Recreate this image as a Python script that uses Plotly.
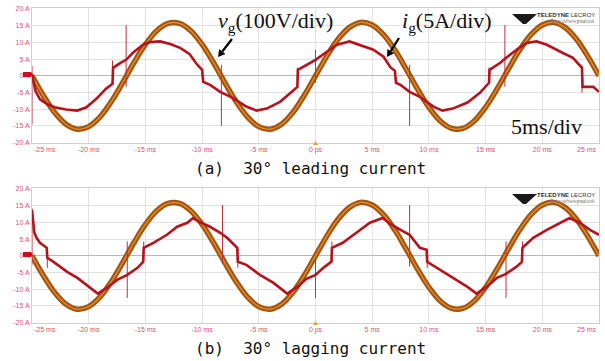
import math
import plotly.graph_objects as go

W, H = 605, 361

# ---------------- data ----------------
# time axis for grid voltage samples (ms)
t_v = list(range(-25, 26))
# grid voltage v_g shown in A-scale divisions (same in both panels)
v_g = [0.0, -5.9, -11.0, -14.5, -16.0, -15.2, -12.3, -7.7, -2.0, 4.0,
       9.4, 13.5, 15.7, 15.7, 13.5, 9.4, 4.0, -2.0, -7.7, -12.3,
       -15.2, -16.0, -14.5, -11.0, -5.9, 0.0, 5.9, 11.0, 14.5, 16.0,
       15.2, 12.3, 7.7, 2.0, -4.0, -9.4, -13.5, -15.7, -15.7, -13.5,
       -9.4, -4.0, 2.0, 7.7, 12.3, 15.2, 16.0, 14.5, 11.0, 5.9, 0.0]

# (a) 30 deg leading current
t_a = [-25.0, -24.7, -24.3, -23.6, -23.0, -22.0, -21.0, -20.2, -19.3, -18.5,
       -17.9, -17.85, -17.2, -16.7, -16.1, -15.2, -14.6, -13.7, -12.8, -11.9,
       -11.1, -10.5, -10.0, -9.9, -9.3, -8.4, -7.3, -6.1, -5.2, -4.3,
       -3.1, -2.3, -1.6, -1.55, -0.8, 0.0, 1.0, 1.9, 3.0, 3.9,
       5.1, 6.0, 6.6, 7.0, 7.1, 7.5, 8.3, 9.2, 10.4, 11.2,
       12.1, 13.4, 14.5, 15.3, 15.35, 16.3, 16.7, 17.8, 18.6, 19.5,
       20.4, 21.6, 22.7, 23.5, 23.55, 24.5, 25.0]
i_a = [0.5, -4.5, -7.0, -8.6, -9.4, -10.1, -10.4, -9.4, -6.8, -3.9,
       -2.4, 2.4, 3.9, 4.8, 6.9, 9.3, 10.1, 10.3, 9.5, 8.3,
       6.5, 3.6, 1.8, -1.8, -2.7, -4.8, -6.6, -9.2, -10.4, -9.8,
       -7.7, -5.4, -3.3, 1.8, 3.3, 4.8, 7.2, 9.3, 10.3, 9.2,
       7.8, 5.7, 2.6, 1.5, -2.1, -2.7, -4.8, -6.3, -9.2, -10.4,
       -9.8, -8.0, -5.1, -2.1, 1.8, 3.9, 5.1, 8.0, 9.8, 10.3,
       9.3, 7.2, 5.4, 2.4, -3.3, -3.3, -4.8]
spike_t_a = [-25.0, -17.9, -16.7, -8.3, -1.6, 0.0, 8.3, 15.3, 16.7, 23.5]
spike_hi_a = [3.0, 4.6, 15.2, 3.3, 2.5, 7.8, 3.3, 2.5, 15.2, 3.0]
spike_lo_a = [-14.6, -2.6, -3.3, -15.0, -3.4, -2.1, -15.0, -2.4, -3.3, -5.0]

# (b) 30 deg lagging current
t_b = [-25.0, -24.8, -24.6, -24.3, -23.7, -23.65, -23.1, -21.9, -21.0, -19.9,
       -19.2, -18.4, -17.5, -16.6, -15.7, -15.2, -15.15, -14.3, -13.1, -12.2,
       -11.3, -10.8, -10.2, -9.3, -8.4, -7.8, -6.9, -6.85, -6.1, -4.9,
       -3.7, -2.5, -1.6, -0.8, 0.0, 0.8, 1.4, 1.45, 2.4, 3.6,
       4.8, 5.9, 6.7, 7.5, 8.3, 9.2, 9.8, 9.85, 11.0, 12.1,
       13.4, 14.2, 15.1, 16.0, 16.8, 17.7, 18.2, 18.25, 19.2, 20.4,
       21.6, 22.4, 23.3, 24.2, 25.0]
i_b = [13.7, 7.0, 5.4, 3.9, 2.4, -0.6, -1.8, -4.8, -6.6, -9.6,
       -11.3, -9.6, -7.2, -5.7, -3.6, -1.8, 2.4, 3.9, 6.3, 8.7,
       9.9, 11.3, 10.1, 8.7, 6.9, 5.4, 2.4, -1.8, -2.7, -5.7,
       -8.1, -11.3, -9.3, -6.9, -5.7, -3.3, -1.8, 2.4, 3.9, 6.9,
       9.9, 11.3, 9.3, 7.8, 6.3, 2.4, 1.8, -1.8, -4.2, -6.6,
       -9.3, -11.3, -9.3, -6.6, -5.4, -3.3, -1.8, 2.4, 5.4, 7.8,
       9.9, 11.3, 9.9, 7.8, 6.3]
spike_t_b = [-25.0, -23.65, -16.6, -15.15, -8.2, -6.85, 0.0, 1.45, 8.3, 9.85, 16.8, 18.25]
spike_hi_b = [14.3, 2.4, 4.3, 4.3, 15.2, 2.4, -0.7, 4.3, 15.2, 1.8, 4.3, 4.3]
spike_lo_b = [-2.7, -3.6, -12.6, -1.8, -2.1, -3.6, -12.6, -1.8, -3.2, -3.6, -12.6, -1.8]

x_ticks = [-25, -20, -15, -10, -5, 0, 5, 10, 15, 20, 25]
x_tick_text = ["-25 ms", "-20 ms", "-15 ms", "-10 ms", "-5 ms", "0 ps",
               "5 ms", "10 ms", "15 ms", "20 ms", "25 ms"]
y_ticks = [20, 15, 10, 5, 0, -5, -10, -15, -20]
y_tick_text = ["20 A", "15 A", "10 A", "5 A", "0 A", "-5 A", "-10 A", "-15 A", "-20 A"]

captions = ["(a)\u00a0\u00a030° leading current", "(b)\u00a0\u00a030° lagging current"]

# ---------------- styles ----------------
V_OUT = "#a5540f"
V_IN = "#dc8c2c"
I_COL = "#b3141d"
SPK_COL = "#c0303f"
LBL_COL = "#e0506e"
GRID = "#e2e2e2"
TICK_FONT = dict(family="Liberation Sans", size=7, color=LBL_COL)


def px(x, y):
    return x / W, 1 - y / H


def poly_path(pts):
    pp = [px(a, b) for a, b in pts]
    return "M " + " L ".join(f"{a:.4f},{b:.4f}" for a, b in pp) + " Z"


def spikes(ts, hi, lo):
    xs, ys = [], []
    for t, h, l in zip(ts, hi, lo):
        xs += [t, t, None]
        ys += [h, l, None]
    return xs, ys


fig = go.Figure()

panels = [("x", "y", t_a, i_a, spike_t_a, spike_hi_a, spike_lo_a),
          ("x2", "y2", t_b, i_b, spike_t_b, spike_hi_b, spike_lo_b)]
for xa, ya, tt, ii, st, sh, sl in panels:
    fig.add_trace(go.Scatter(x=t_v, y=v_g, xaxis=xa, yaxis=ya, mode="lines",
                             line=dict(color=V_OUT, width=5.5, shape="spline", smoothing=1.0),
                             hoverinfo="skip", showlegend=False))
    fig.add_trace(go.Scatter(x=t_v, y=v_g, xaxis=xa, yaxis=ya, mode="lines",
                             line=dict(color=V_IN, width=1.4, shape="spline", smoothing=1.0),
                             hoverinfo="skip", showlegend=False))
    sx, sy = spikes(st, sh, sl)
    fig.add_trace(go.Scatter(x=sx, y=sy, xaxis=xa, yaxis=ya, mode="lines",
                             line=dict(color=SPK_COL, width=1),
                             hoverinfo="skip", showlegend=False))
    fig.add_trace(go.Scatter(x=tt, y=ii, xaxis=xa, yaxis=ya, mode="lines",
                             line=dict(color=I_COL, width=2.6),
                             hoverinfo="skip", showlegend=False))

xdom = [32 / W, 599 / W]
ydom_top = [1 - 143 / H, 1 - 8 / H]
ydom_bot = [1 - 323 / H, 1 - 188 / H]

# the edge ticks (+-25 ms) coincide with the frame; their labels are placed inside below
xcommon = dict(range=[-25, 25], tickvals=x_ticks[1:-1], ticktext=x_tick_text[1:-1],
               tickfont=TICK_FONT,
               showgrid=True, gridcolor=GRID, gridwidth=1, zeroline=False,
               showline=True, linecolor="#cfcfcf", linewidth=1, mirror=True,
               ticks="", automargin=False, fixedrange=True)
ycommon = dict(range=[-20.1, 20.3], tickvals=y_ticks, ticktext=y_tick_text,
               tickfont=TICK_FONT,
               showgrid=True, gridcolor=GRID, gridwidth=1,
               zeroline=True, zerolinecolor="#b8b8b8", zerolinewidth=1,
               showline=True, linecolor="#cfcfcf", linewidth=1, mirror=True,
               ticks="", automargin=False, fixedrange=True)

fig.update_layout(
    width=W, height=H, margin=dict(l=0, r=0, t=0, b=0),
    paper_bgcolor="white", plot_bgcolor="white", showlegend=False,
    xaxis=dict(domain=xdom, anchor="y", **xcommon),
    yaxis=dict(domain=ydom_top, anchor="x", **ycommon),
    xaxis2=dict(domain=xdom, anchor="y2", **xcommon),
    yaxis2=dict(domain=ydom_bot, anchor="x2", **ycommon),
)

ann = []
# edge tick labels kept inside the plot width
for xr, yr in (("x", "y"), ("x2", "y2")):
    ann.append(dict(xref=xr, yref=f"{yr} domain", x=x_ticks[0], y=0, text=x_tick_text[0],
                    showarrow=False, xanchor="left", yanchor="top", yshift=-1,
                    font=TICK_FONT))
    ann.append(dict(xref=xr, yref=f"{yr} domain", x=x_ticks[-1], y=0, text=x_tick_text[-1],
                    showarrow=False, xanchor="right", yanchor="top", yshift=-1,
                    font=TICK_FONT))

# captions
for k, cap in enumerate(captions):
    cx, cy = px(310, 168 + 180 * k)
    ann.append(dict(xref="paper", yref="paper", x=cx, y=cy, text=cap, showarrow=False,
                    xanchor="center", yanchor="middle",
                    font=dict(family="DejaVu Sans Mono", size=16, color="#111111")))

# labels in panel (a)
serif = dict(family="Liberation Serif", size=22, color="#111111")
x0, y0 = px(216, 22)
ann.append(dict(xref="paper", yref="paper", x=x0, y=y0, text="<i>v</i><sub>g</sub>(100V/div)",
                showarrow=False, xanchor="left", yanchor="middle", font=serif))
x0, y0 = px(400, 22)
ann.append(dict(xref="paper", yref="paper", x=x0, y=y0, text="<i>i</i><sub>g</sub>(5A/div)",
                showarrow=False, xanchor="left", yanchor="middle", font=serif))
x0, y0 = px(509, 126)
ann.append(dict(xref="paper", yref="paper", x=x0, y=y0, text="5ms/div",
                showarrow=False, xanchor="left", yanchor="middle", font=serif))

shapes = []


def arrow(tail, tip, head_len=7.0, half_w=4.0):
    dx, dy = tip[0] - tail[0], tip[1] - tail[1]
    L = math.hypot(dx, dy)
    ux, uy = dx / L, dy / L
    bx, by = tip[0] - head_len * ux, tip[1] - head_len * uy
    nx, ny = -uy, ux
    (x1, y1), (x2, y2) = px(*tail), px(bx, by)
    shapes.append(dict(type="line", xref="paper", yref="paper", x0=x1, y0=y1, x1=x2, y1=y2,
                       line=dict(color="black", width=2.2)))
    shapes.append(dict(type="path", xref="paper", yref="paper",
                       path=poly_path([tip, (bx + half_w * nx, by + half_w * ny),
                                       (bx - half_w * nx, by - half_w * ny)]),
                       fillcolor="black", line=dict(width=0)))


arrow((232, 39), (218, 57))
arrow((399, 38), (387, 57))

for k in range(2):
    dy = 180 * k
    # logo text
    x0, y0 = px(597, 15 + dy)
    ann.append(dict(xref="paper", yref="paper", x=x0, y=y0,
                    text="<b>TELEDYNE</b> LECROY", showarrow=False,
                    xanchor="right", yanchor="middle",
                    font=dict(family="Liberation Sans", size=6, color="#333333")))
    x0, y0 = px(597, 21 + dy)
    ann.append(dict(xref="paper", yref="paper", x=x0, y=y0,
                    text="Everywhere<b>you</b>look", showarrow=False,
                    xanchor="right", yanchor="middle",
                    font=dict(family="Liberation Sans", size=5, color="#888888")))
    # logo fan
    shapes.append(dict(type="path", xref="paper", yref="paper",
                       path=poly_path([(512, 14 + dy), (537, 14 + dy), (526, 24 + dy), (523, 24 + dy)]),
                       fillcolor="#1a1a1a", line=dict(width=0)))
    # channel marker on the left
    shapes.append(dict(type="path", xref="paper", yref="paper",
                       path=poly_path([(23, 72 + dy), (31, 72 + dy), (33, 74.5 + dy),
                                       (31, 77 + dy), (23, 77 + dy)]),
                       fillcolor="#c8101e", line=dict(width=0)))
    # trigger marker at time zero
    shapes.append(dict(type="path", xref="paper", yref="paper",
                       path=poly_path([(313, 145 + dy), (318, 145 + dy), (315.5, 141 + dy)]),
                       fillcolor="#f0a030", line=dict(width=0)))

fig.update_layout(annotations=ann, shapes=shapes)

fig.write_html("out.html", config={"displayModeBar": False},
               post_script="document.body.style.margin='0';document.body.style.padding='0';"
                           "document.documentElement.style.overflow='hidden';")
